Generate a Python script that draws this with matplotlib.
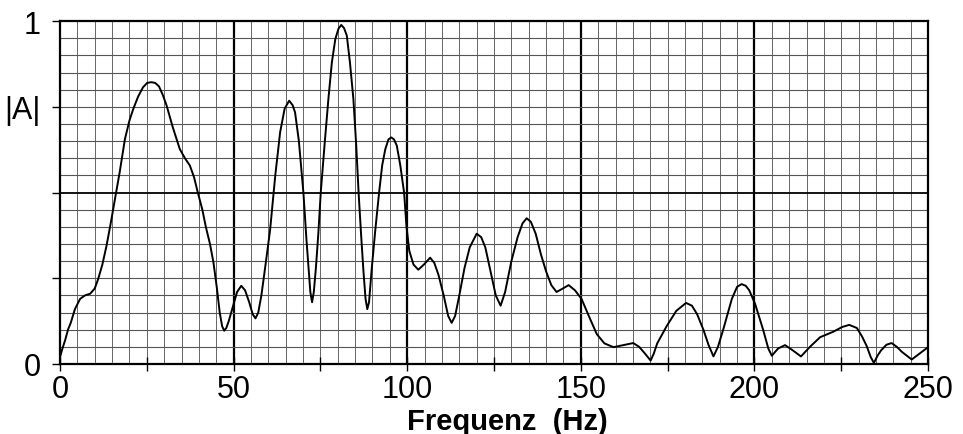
import numpy as np
import matplotlib
matplotlib.use("Agg")
from matplotlib import pyplot as plt

plt.rcParams['font.family'] = ['Liberation Sans', 'DejaVu Sans']

# spectrum (frequency in Hz, normalised amplitude)
freq = [0, 0.7, 1.5, 2.3, 3.1, 4.3, 5.8, 7.2, 8.7, 10.0, 11.0, 12.2, 13.4, 14.6,
        15.8, 17.2, 18.7, 20.0, 21.1, 22.5, 23.9, 25.1, 26.3, 27.4, 28.5, 29.6,
        30.7, 32.5, 34.5, 36.0, 37.4, 38.6, 39.7, 41.0, 42.0, 43.2, 44.2, 45.2,
        46.0, 46.7, 47.3, 47.9, 48.6, 49.3, 50.0, 51.0, 52.2, 53.3, 54.5, 55.5,
        56.3, 57.1, 58.0, 59.2, 60.5, 62.0, 63.4, 64.7, 66.0, 67.0, 67.7, 68.8,
        70.1, 71.0, 71.6, 72.1, 72.6, 73.1, 73.7, 74.4, 75.1, 76.2, 77.3, 78.3,
        79.3, 80.2, 81.0, 81.8, 82.6, 83.5, 84.5, 85.3, 86.0, 86.7, 87.4, 88.0,
        88.5, 89.0, 89.8, 90.8, 91.9, 92.8, 93.7, 94.6, 95.4, 96.2, 97.0, 98.0,
        99.1, 99.8, 100.6, 101.8, 103.2, 104.8, 106.6, 107.8, 109.0, 110.5,
        111.8, 112.8, 113.8, 115.0, 116.5, 118.0, 120.0, 121.3, 122.5, 124.0,
        125.5, 126.9, 128.2, 130.0, 131.8, 133.2, 134.4, 135.6, 137.0, 138.5,
        140.0, 141.5, 143.0, 144.8, 146.5, 148.3, 150.2, 152.3, 154.6, 156.8,
        159.4, 162.3, 165.1, 166.8, 168.5, 170.1, 171.0, 172.0, 174.7, 177.5,
        180.3, 182.0, 183.5, 185.3, 186.8, 188.2, 189.5, 191.0, 193.5, 195.0,
        196.3, 197.5, 198.5, 200.2, 202.5, 204.0, 205.0, 206.8, 208.8, 211.0,
        213.4, 216.0, 218.9, 222.7, 225.3, 227.3, 229.5, 231.0, 232.3, 233.5,
        234.4, 235.5, 236.5, 238.0, 239.5, 241.0, 242.5, 245.3, 247.5, 250]
amp = [0.02, 0.045, 0.07, 0.10, 0.12, 0.16, 0.19, 0.20, 0.205, 0.22, 0.248, 0.29,
       0.345, 0.41, 0.48, 0.56, 0.656, 0.71, 0.744, 0.78, 0.807, 0.82, 0.822,
       0.82, 0.81, 0.785, 0.754, 0.69, 0.627, 0.60, 0.579, 0.545, 0.50, 0.45,
       0.40, 0.35, 0.296, 0.22, 0.15, 0.11, 0.097, 0.105, 0.125, 0.15, 0.175,
       0.21, 0.228, 0.215, 0.18, 0.145, 0.133, 0.15, 0.20, 0.29, 0.39, 0.55,
       0.676, 0.745, 0.768, 0.755, 0.734, 0.65, 0.50, 0.36, 0.28, 0.21, 0.18,
       0.21, 0.28, 0.38, 0.50, 0.64, 0.773, 0.88, 0.948, 0.978, 0.989, 0.98,
       0.958, 0.88, 0.773, 0.64, 0.50, 0.38, 0.27, 0.19, 0.16, 0.18, 0.28, 0.39,
       0.50, 0.58, 0.627, 0.655, 0.661, 0.655, 0.637, 0.58, 0.50, 0.40, 0.33,
       0.29, 0.275, 0.29, 0.31, 0.295, 0.26, 0.20, 0.14, 0.12, 0.14, 0.20, 0.28,
       0.34, 0.38, 0.37, 0.34, 0.27, 0.20, 0.17, 0.21, 0.30, 0.37, 0.41, 0.425,
       0.415, 0.38, 0.32, 0.27, 0.23, 0.21, 0.22, 0.23, 0.215, 0.19, 0.14,
       0.087, 0.06, 0.049, 0.055, 0.061, 0.05, 0.03, 0.01, 0.03, 0.06, 0.11,
       0.155, 0.178, 0.17, 0.145, 0.10, 0.055, 0.022, 0.05, 0.10, 0.19, 0.225,
       0.233, 0.228, 0.215, 0.175, 0.10, 0.045, 0.024, 0.045, 0.055, 0.04,
       0.022, 0.05, 0.078, 0.094, 0.108, 0.114, 0.105, 0.08, 0.053, 0.02, 0.003,
       0.025, 0.04, 0.056, 0.061, 0.05, 0.035, 0.013, 0.03, 0.049]

x_ticks = [0, 25, 50, 75, 100, 125, 150, 175, 200, 225, 250]
x_labels = ['0', '', '50', '', '100', '', '150', '', '200', '', '250']
y_ticks = [0, 0.25, 0.5, 0.75, 1]
y_labels = ['0', '', '', '|A|', '1']

fig = plt.figure(figsize=(9.63, 4.35), dpi=100)
ax = fig.add_axes([0.0623, 0.161, 0.9014, 0.788])

# paper grid
for xv in np.arange(5, 250, 5):
    major = xv % 50 == 0
    ax.axvline(xv, color='black' if major else '#666666',
               lw=1.6 if major else 0.7, zorder=1)
for yv in np.arange(0.05, 1.0, 0.05):
    major = abs(yv - 0.5) < 1e-6
    ax.axhline(yv, color='black' if major else '#555555',
               lw=1.3 if major else 0.8, zorder=1)

ax.plot(freq, amp, color='black', lw=1.4, zorder=3)

ax.set_xlim(0, 250)
ax.set_ylim(0, 1)
ax.set_xticks(x_ticks)
ax.set_xticklabels(x_labels, fontsize=22)
ax.set_yticks(y_ticks)
ax.set_yticklabels(y_labels, fontsize=22)
ax.tick_params(axis='x', direction='inout', length=10, width=1, pad=2)
ax.tick_params(axis='y', direction='out', length=6, width=1, pad=8)
for s in ax.spines.values():
    s.set_linewidth(1.6)

ax.set_xlabel('Frequenz  (Hz)', fontsize=21, fontweight='bold')
ax.xaxis.set_label_coords(0.515, -0.125)

plt.savefig("out.png", dpi=100)
